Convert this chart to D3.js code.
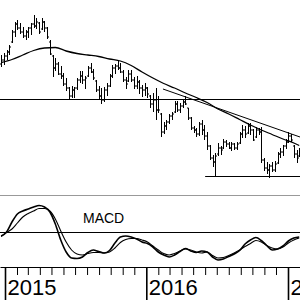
<!DOCTYPE html>
<html><head><meta charset="utf-8">
<script src="https://cdn.jsdelivr.net/npm/d3@7"></script>
<style>html,body{margin:0;padding:0;background:#fff;}svg{display:block;}</style>
</head><body>
<script>
// ---- data (weekly OHLC) ----
const firstWeek = "2014-12-22";
const high = [72.5,73.5,75,77.5,85,89,90,88.5,86.5,85, 86.5,88.5,92.5,91,89,91,89.5,86.5,80,72.5, 71,69,67,63.5,61,56.5,57,56.5,61,64.5, 64.5,62,67,68.5,65.5,60,57,56,56.5,58.5, 63,67.5,68,70,68.5,65,61.5,65,65,61.5, 62,60,57.5,58.5,56.5,52.5,53.5,56,52,43.5, 39,40,43,44,49.5,49.5,48.5,50,52,46, 41.5,37,36,39,40,37.5,34,27.5,22.5,23.5, 28.5,27,30.5,30,29,29,28.5,29,34,37.5, 37,38.5,38.5,35.5,36.5,36,36.5,21,19,18, 19,19.5,24,26,27.5,30.5,34,33,27.5,25, 26];
const low = [66.5,67.5,70,72.5,78.5,81.5,85,83,81,80, 81,82.5,86,85.5,83,85,84,80.5,72.5,61.5, 64.5,62.5,60.5,57,54.5,50,51,51,55,58.5, 58,55.5,61.5,63.5,60,54,50.5,48,49,52, 56.5,61,63,65,63.5,59,55.5,59,59,55.5, 55.5,53,51.5,52,51,46,44,40,43.5,31.5, 33,35,38,40,43.5,44,43.5,46,47.5,40, 35,33.5,31.5,32,32.5,30,25,20,16.5,11.5, 22,22.5,25.5,26.5,25.5,24.5,25,25,28,31, 31,33,32.5,29.5,31,32.5,18.5,14.5,13,11, 14,14,18,21,22,25.5,28.5,29,21,18.5, 21.5];
const open = [68,70,72,74,79,84,88,86,84,82, 84,86,88,87,88.5,85.5,89,86,79,72, 66,68,63,62,58,56,52,55,56,60, 62,60,62,66,64,59.5,55,52,50,55, 57,62,66,67,66,64,60,59.5,63,60, 57,59,56,55,56,52,48,50,45,43, 34,37,39,42,44,48,45,47,49,46, 41,36,35,33,38,35,32,27,21,19, 23,26,26,29,28,26,28,26,28.5,33, 35,33.5,37,35,31.5,35,34,20,16,15, 17,15,18.5,23,24,27,29,32,27,23, 22];
const close = [70,72,74,76.5,84,88,86,84,82,84, 86,88,87,89,84,89,86,81.5,73,66, 68,63,62,58,56,52,55,56,60,62, 60,61,66,64,61,55,52,50,55,57, 62,66,67,66,64,60,58,63,60,57, 59,56,55,56,53,48,50,45,45,34, 37,39,42,43,48,45,47,49,48,41, 36,35,33,38,35,32,27,21,19,22, 26,25,29,28,26,28,26,28,33,35, 33,37,35,30,35,34,20,16,15,17, 15,18,23,24,27,29,32,30,23,21, 24];

const maWeeks = [0,4,8,12,16,20,24,28,32,36,40,44,48,52,56,60,64,68,72,76,80,84,88,92,96,100,104,108,110];
const maValues = [68.75,70.25,72.5,74.75,76,76.25,74.5,73.25,72.5,71.75,70.5,69.5,67.25,64,61,58.25,56,53.5,51.25,48.75,45.5,43,40.25,37.5,35,32.75,30.5,28.5,27.25];

const macdWeeks = [0,2,4,6,8,10,12,14,16,18,20,22,24,26,28,30,32,34,36,38,40,42,44,46,48,50,52,54,56,58,60,62,64,66,68,70,72,74,76,78,80,82,84,86,88,90,92,94,96,98,100,102,104,106,108,110];
const macdLine = [-0.4,0,1.0,1.8,2.1,2.3,2.5,2.65,2.5,2.0, 0.8,-0.8,-2.0,-2.6,-2.65,-2.5,-2.05,-1.8,-1.95,-2.1, -1.85,-1.1,-0.5,-0.4,-0.5,-0.7,-1.0,-1.15,-1.5,-2.0, -2.3,-2.5,-2.3,-1.95,-1.65,-1.9,-2.05,-1.9,-2.0,-2.5, -2.8,-2.7,-2.45,-2.2,-1.85,-1.2,-0.8,-0.55,-0.85,-1.35, -1.8,-1.7,-1.4,-0.9,-0.6,-0.5];
const signalLine = [-0.45,-0.05,0.3,0.9,1.5,1.85,2.1,2.35,2.35,2.1, 1.3,0.1,-1.0,-1.8,-2.2,-2.3,-2.15,-2.05,-2.05,-2.1, -2.0,-1.6,-1.05,-0.75,-0.65,-0.65,-0.8,-1.0,-1.4,-1.8, -2.15,-2.3,-2.15,-1.9,-1.7,-1.8,-2.0,-2.1,-2.0,-2.35, -2.6,-2.55,-2.35,-2.1,-1.8,-1.45,-1.15,-0.85,-1.0,-1.35, -1.6,-1.7,-1.5,-1.1,-0.8,-0.6];

const resistanceLevel = 50.5;
const supportLevel = 12;
const supportStart = "2016-06-01";
const trendDates = ["2016-02-13", "2017-02-01"];
const trendValues = [55.5, 31.5];
const yearTicks = ["2015-01-01", "2016-01-01", "2017-01-01"];
const yearLabels = ["2015", "2016", "2017"];
const macdTitle = "MACD";

// ---- chart ----
const W = 300, H = 300;
const parse = d3.utcParse("%Y-%m-%d");
const start = parse(firstWeek);
const weekDate = i => d3.utcWeek.offset(start, i);

const x = d3.scaleUtc().domain([parse("2015-01-01"), parse("2017-01-01")]).range([5, 288]);
const xFull = x.copy().domain([x.invert(0), x.invert(W)]).range([0, W]);
const yP = d3.scaleLinear().domain([0, 100]).range([200, 0]);
const yM = d3.scaleLinear().domain([-3.5, 3.7]).range([267, 195]);

const svg = d3.select("body").append("svg").attr("width", W).attr("height", H)
  .attr("font-family", "'Liberation Sans', Arial, sans-serif");
svg.append("rect").attr("width", W).attr("height", H).attr("fill", "#fff");
svg.append("defs").append("clipPath").attr("id", "pc")
  .append("rect").attr("x", 0).attr("y", 0).attr("width", W).attr("height", 195);
svg.append("defs").append("clipPath").attr("id", "mc")
  .append("rect").attr("x", 0).attr("y", 196).attr("width", W).attr("height", 71);

// price panel
const pg = svg.append("g").attr("clip-path", "url(#pc)");
const bars = high.map((h, i) => ({d: weekDate(i), h, l: low[i], o: open[i], c: close[i]}));
pg.append("path")
  .attr("d", bars.map(b => {
    const xx = Math.round(x(b.d)) + 0.5;
    return `M${xx},${yP(b.h)}V${yP(b.l)}M${xx - 1.5},${yP(b.o)}H${xx}M${xx},${yP(b.c)}H${xx + 1.5}`;
  }).join(""))
  .attr("stroke", "#000").attr("stroke-width", 1).attr("fill", "none");

pg.append("line").attr("x1", 0).attr("x2", W)
  .attr("y1", Math.round(yP(resistanceLevel)) + 0.5).attr("y2", Math.round(yP(resistanceLevel)) + 0.5)
  .attr("stroke", "#000").attr("stroke-width", 1);
pg.append("line").attr("x1", x(parse(supportStart))).attr("x2", W)
  .attr("y1", Math.round(yP(supportLevel)) + 0.5).attr("y2", Math.round(yP(supportLevel)) + 0.5)
  .attr("stroke", "#000").attr("stroke-width", 1);
pg.append("line")
  .attr("x1", x(parse(trendDates[0]))).attr("y1", yP(trendValues[0]))
  .attr("x2", x(parse(trendDates[1]))).attr("y2", yP(trendValues[1]))
  .attr("stroke", "#000").attr("stroke-width", 1);

const maLine = d3.line().x(d => x(d[0])).y(d => yP(d[1])).curve(d3.curveMonotoneX);
pg.append("path").attr("d", maLine(maWeeks.map((w, i) => [weekDate(w), maValues[i]])))
  .attr("fill", "none").attr("stroke", "#000").attr("stroke-width", 1.3);

svg.append("line").attr("x1", 0).attr("x2", W).attr("y1", 195.5).attr("y2", 195.5)
  .attr("stroke", "#999").attr("stroke-width", 1);

// MACD panel
const mg = svg.append("g").attr("clip-path", "url(#mc)");
mg.append("line").attr("x1", 0).attr("x2", W)
  .attr("y1", Math.round(yM(0)) + 0.5).attr("y2", Math.round(yM(0)) + 0.5)
  .attr("stroke", "#000").attr("stroke-width", 1);
const mLine = d3.line().x(d => x(d[0])).y(d => yM(d[1])).curve(d3.curveMonotoneX);
mg.append("path").attr("d", mLine(macdWeeks.map((w, i) => [weekDate(w), signalLine[i]])))
  .attr("fill", "none").attr("stroke", "#000").attr("stroke-width", 1.1);
mg.append("path").attr("d", mLine(macdWeeks.map((w, i) => [weekDate(w), macdLine[i]])))
  .attr("fill", "none").attr("stroke", "#000").attr("stroke-width", 1.6);
svg.append("text").attr("x", 83).attr("y", 223).attr("font-size", 14).attr("fill", "#000").text(macdTitle);

// time axis
const monthTicks = d3.utcMonth.range(xFull.domain()[0], xFull.domain()[1]).filter(d => d.getUTCMonth() !== 0);
const axMinor = d3.axisBottom(xFull).tickValues(monthTicks).tickSize(8).tickSizeOuter(0).tickFormat("");
const ga = svg.append("g").attr("transform", "translate(0,267)").call(axMinor);
ga.select(".domain").attr("stroke", "#000").attr("stroke-width", 1);
ga.selectAll(".tick line").attr("stroke", "#000").attr("stroke-width", 1);

const yearDates = yearTicks.map(parse);
const axYear = d3.axisBottom(xFull).tickValues(yearDates).tickSize(33).tickSizeOuter(0)
  .tickFormat((d, i) => yearLabels[i]);
const gy = svg.append("g").attr("transform", "translate(0,267)").call(axYear);
gy.select(".domain").remove();
gy.selectAll(".tick line").attr("stroke", "#000").attr("stroke-width", 1.6);
gy.selectAll(".tick text").attr("text-anchor", "start").attr("x", 2).attr("y", 28).attr("dy", 0)
  .attr("font-size", 22).attr("font-family", "'Liberation Sans', Arial, sans-serif").attr("fill", "#000");
</script>
</body></html>
